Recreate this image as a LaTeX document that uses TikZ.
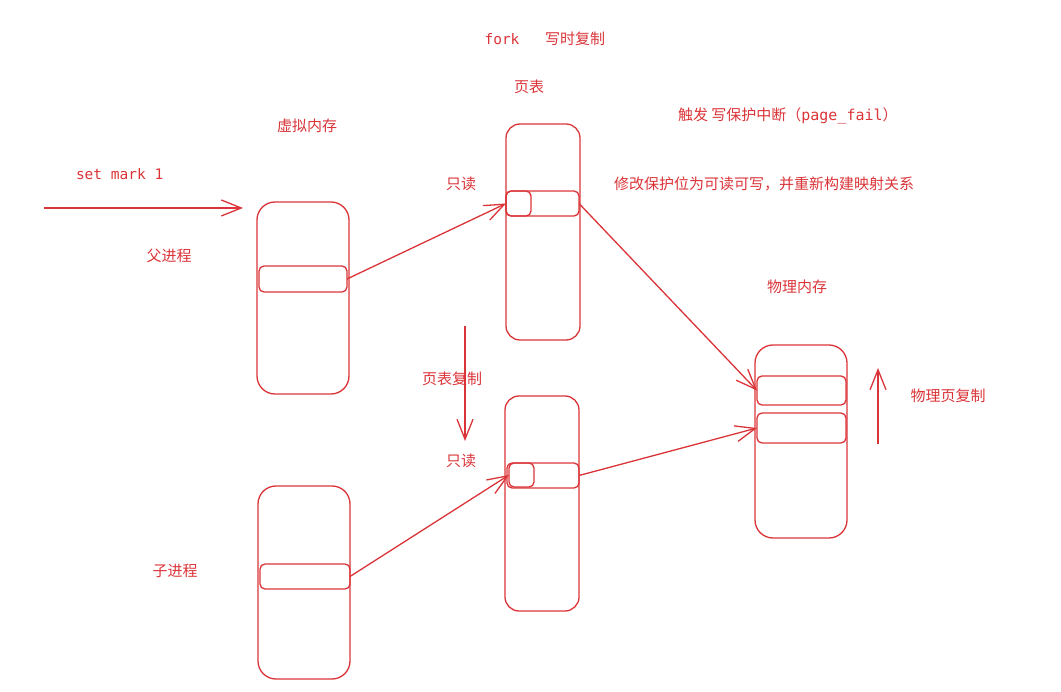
\documentclass[tikz,border=0pt]{standalone}
\usepackage{fontspec}
\setmainfont{Noto Sans CJK SC}
\setmonofont{DejaVu Sans Mono}
\usetikzlibrary{arrows.meta, positioning}
\definecolor{sketchred}{RGB}{218, 52, 56}

\begin{document}
\begin{tikzpicture}[
  x=1pt, y=-1pt,
  every node/.style={inner sep=0pt, outer sep=0pt},
  membox/.style={rectangle, draw=sketchred, line width=1.3pt, rounded corners=18pt,
               minimum width=92pt, minimum height=192pt},
  tabbox/.style={rectangle, draw=sketchred, line width=1.3pt, rounded corners=14pt,
               minimum width=74pt, minimum height=216pt},
  slot/.style={rectangle, draw=sketchred, line width=1.3pt, rounded corners=5pt,
               minimum height=26pt},
  lbl/.style={text=sketchred, font=\fontsize{15}{18}\selectfont},
  arr/.style={-{Straight Barb[length=20pt, width=16pt]}, line width=1.3pt, draw=sketchred}
]
  \useasboundingbox (0,0) rectangle (1061,692);

  % memory and page tables
  \node[membox] (pvm) at (303,298) {};
  \node[membox, minimum height=193pt] (cvm) at (304,582.5) {};
  \node[tabbox] (ptab) at (543,232) {};
  \node[tabbox, minimum height=215pt] (ctab) at (542,503.5) {};
  \node[membox, minimum height=193pt] (phys) at (801,441.5) {};

  % entries
  \node[slot, minimum width=88pt] (pent) at (303,279) {};
  \node[slot, minimum width=90pt, minimum height=25pt] (cent) at (305,576.5) {};
  \node[slot, minimum width=73pt, minimum height=25pt] (pte) at (542.5,203.5) {};
  \node[slot, minimum width=25pt, minimum height=25pt] (ptsq) at (518.5,203.5) {};
  \node[slot, minimum width=72pt, minimum height=25pt] (cte) at (543,475.5) {};
  \node[slot, minimum width=25pt, minimum height=24pt] (ctsq) at (521.5,475) {};
  \node[slot, minimum width=89pt, minimum height=29pt] (pg1) at (801.5,390.5) {};
  \node[slot, minimum width=89pt, minimum height=30pt] (pg2) at (801.5,428) {};

  % labels
  \node[lbl, font=\fontsize{14.5}{17}\ttfamily] (fork) at (502,39) {fork};
  \node[lbl] (cow) at (575,39) {写时复制};
  \node[lbl] (ptl) at (529,87) {页表};
  \node[lbl] (vml) at (307,126) {虚拟内存};
  \node[lbl, anchor=west] (trig) at (678,116) {触发 写保护中断（\texttt{page\_fail}）};
  \node[lbl, font=\fontsize{14.5}{17}\ttfamily, anchor=west] (mark) at (76,174) {set mark 1};
  \node[lbl] (ro1) at (461,184) {只读};
  \node[lbl, anchor=west] (fix) at (614,184) {修改保护位为可读可写，并重新构建映射关系};
  \node[lbl] (par) at (169,256) {父进程};
  \node[lbl] (pml) at (797,287) {物理内存};
  \node[lbl] (tcopy) at (452,379) {页表复制};
  \node[lbl] (pcopy) at (948,396) {物理页复制};
  \node[lbl] (ro2) at (461,461) {只读};
  \node[lbl] (chd) at (175,571) {子进程};

  % free ends
  \coordinate (m0) at (44,208);
  \coordinate (m1) at (243,208);
  \coordinate (t0) at (465,326);
  \coordinate (t1) at (465,441);
  \coordinate (c0) at (878,444);
  \coordinate (c1) at (878,368);

  \draw[arr] (m0) -- (m1);
  \draw[arr] (t0) -- (t1);
  \draw[arr] (c0) -- (c1);
  \draw[arr] (pent.east) -- (ptsq.west);
  \draw[arr] (cent.east) -- (ctsq.west);
  \draw[arr] (pte.east) -- (pg1.west);
  \draw[arr] (cte.east) -- (pg2.west);
\end{tikzpicture}
\end{document}
